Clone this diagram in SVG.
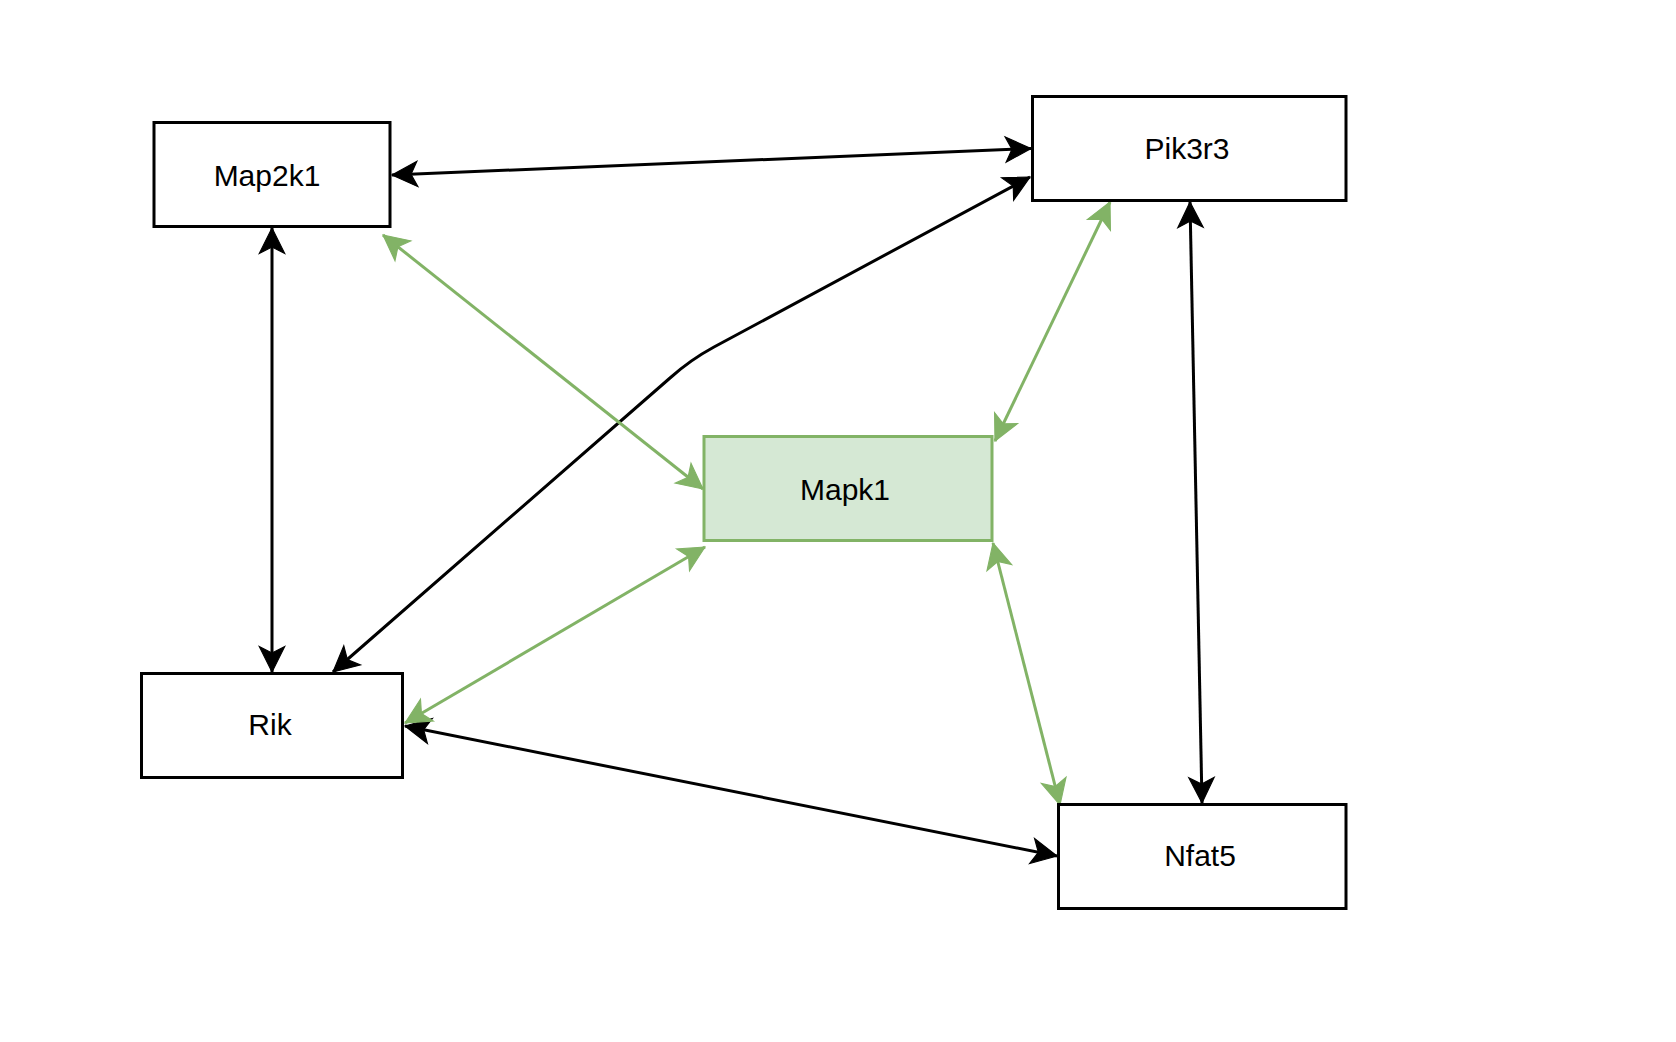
<svg xmlns="http://www.w3.org/2000/svg" width="1676" height="1042" viewBox="0 0 1676 1042">
<style>
.box{fill:#ffffff;stroke:#000000;stroke-width:3}
.gbox{fill:#d5e8d4;stroke:#82b366;stroke-width:3}
.lbl{font-family:"Liberation Sans",Arial,Helvetica,sans-serif;font-size:30px;fill:#000000;text-anchor:middle}
.e{fill:none;stroke:#000000;stroke-width:3}
.g{fill:none;stroke:#82b366;stroke-width:3}
</style>
<defs>
<marker id="ab" markerUnits="userSpaceOnUse" markerWidth="30" markerHeight="30" viewBox="-24 -13 26 26" refX="0" refY="0" orient="auto-start-reverse">
<path d="M0,0 L-22,-11 L-16.5,0 L-22,11 Z" fill="#000000" stroke="#000000" stroke-width="1" stroke-linejoin="miter"/>
</marker>
<marker id="ag" markerUnits="userSpaceOnUse" markerWidth="30" markerHeight="30" viewBox="-24 -13 26 26" refX="0" refY="0" orient="auto-start-reverse">
<path d="M0,0 L-22,-11 L-16.5,0 L-22,11 Z" fill="#82b366" stroke="#82b366" stroke-width="1" stroke-linejoin="miter"/>
</marker>
</defs>
<rect width="1676" height="1042" fill="#ffffff"/>
<g id="connectors">
<path class="e" d="M392,175 L1031,148.5" marker-start="url(#ab)" marker-end="url(#ab)"/>
<path class="e" d="M272,228 L272,672" marker-start="url(#ab)" marker-end="url(#ab)"/>
<path class="e" d="M1190,202 L1202,803" marker-start="url(#ab)" marker-end="url(#ab)"/>
<path class="e" d="M405,726 L1057,856" marker-start="url(#ab)" marker-end="url(#ab)"/>
<path class="e" d="M333,672 L670,378 Q690,360 714,347 L1030,177" marker-start="url(#ab)" marker-end="url(#ab)"/>
<path class="g" d="M383,235 L703,489" marker-start="url(#ag)" marker-end="url(#ag)"/>
<path class="g" d="M1110,202 L995,441" marker-start="url(#ag)" marker-end="url(#ag)"/>
<path class="g" d="M705,547 L405,723" marker-start="url(#ag)" marker-end="url(#ag)"/>
<path class="g" d="M993,543 L1060,805" marker-start="url(#ag)" marker-end="url(#ag)"/>
</g>
<g id="node-map2k1">
<rect class="box" x="154" y="122.5" width="236" height="104"/>
<text class="lbl" x="267" y="186">Map2k1</text>
</g>
<g id="node-pik3r3">
<rect class="box" x="1032.5" y="96.5" width="313.5" height="104"/>
<text class="lbl" x="1187" y="159">Pik3r3</text>
</g>
<g id="node-mapk1">
<rect class="gbox" x="704" y="436.5" width="288" height="104"/>
<text class="lbl" x="845" y="500">Mapk1</text>
</g>
<g id="node-rik">
<rect class="box" x="141.5" y="673.5" width="261" height="104"/>
<text class="lbl" x="270" y="735">Rik</text>
</g>
<g id="node-nfat5">
<rect class="box" x="1058.5" y="804.5" width="287.5" height="104"/>
<text class="lbl" x="1200" y="866">Nfat5</text>
</g>
</svg>
